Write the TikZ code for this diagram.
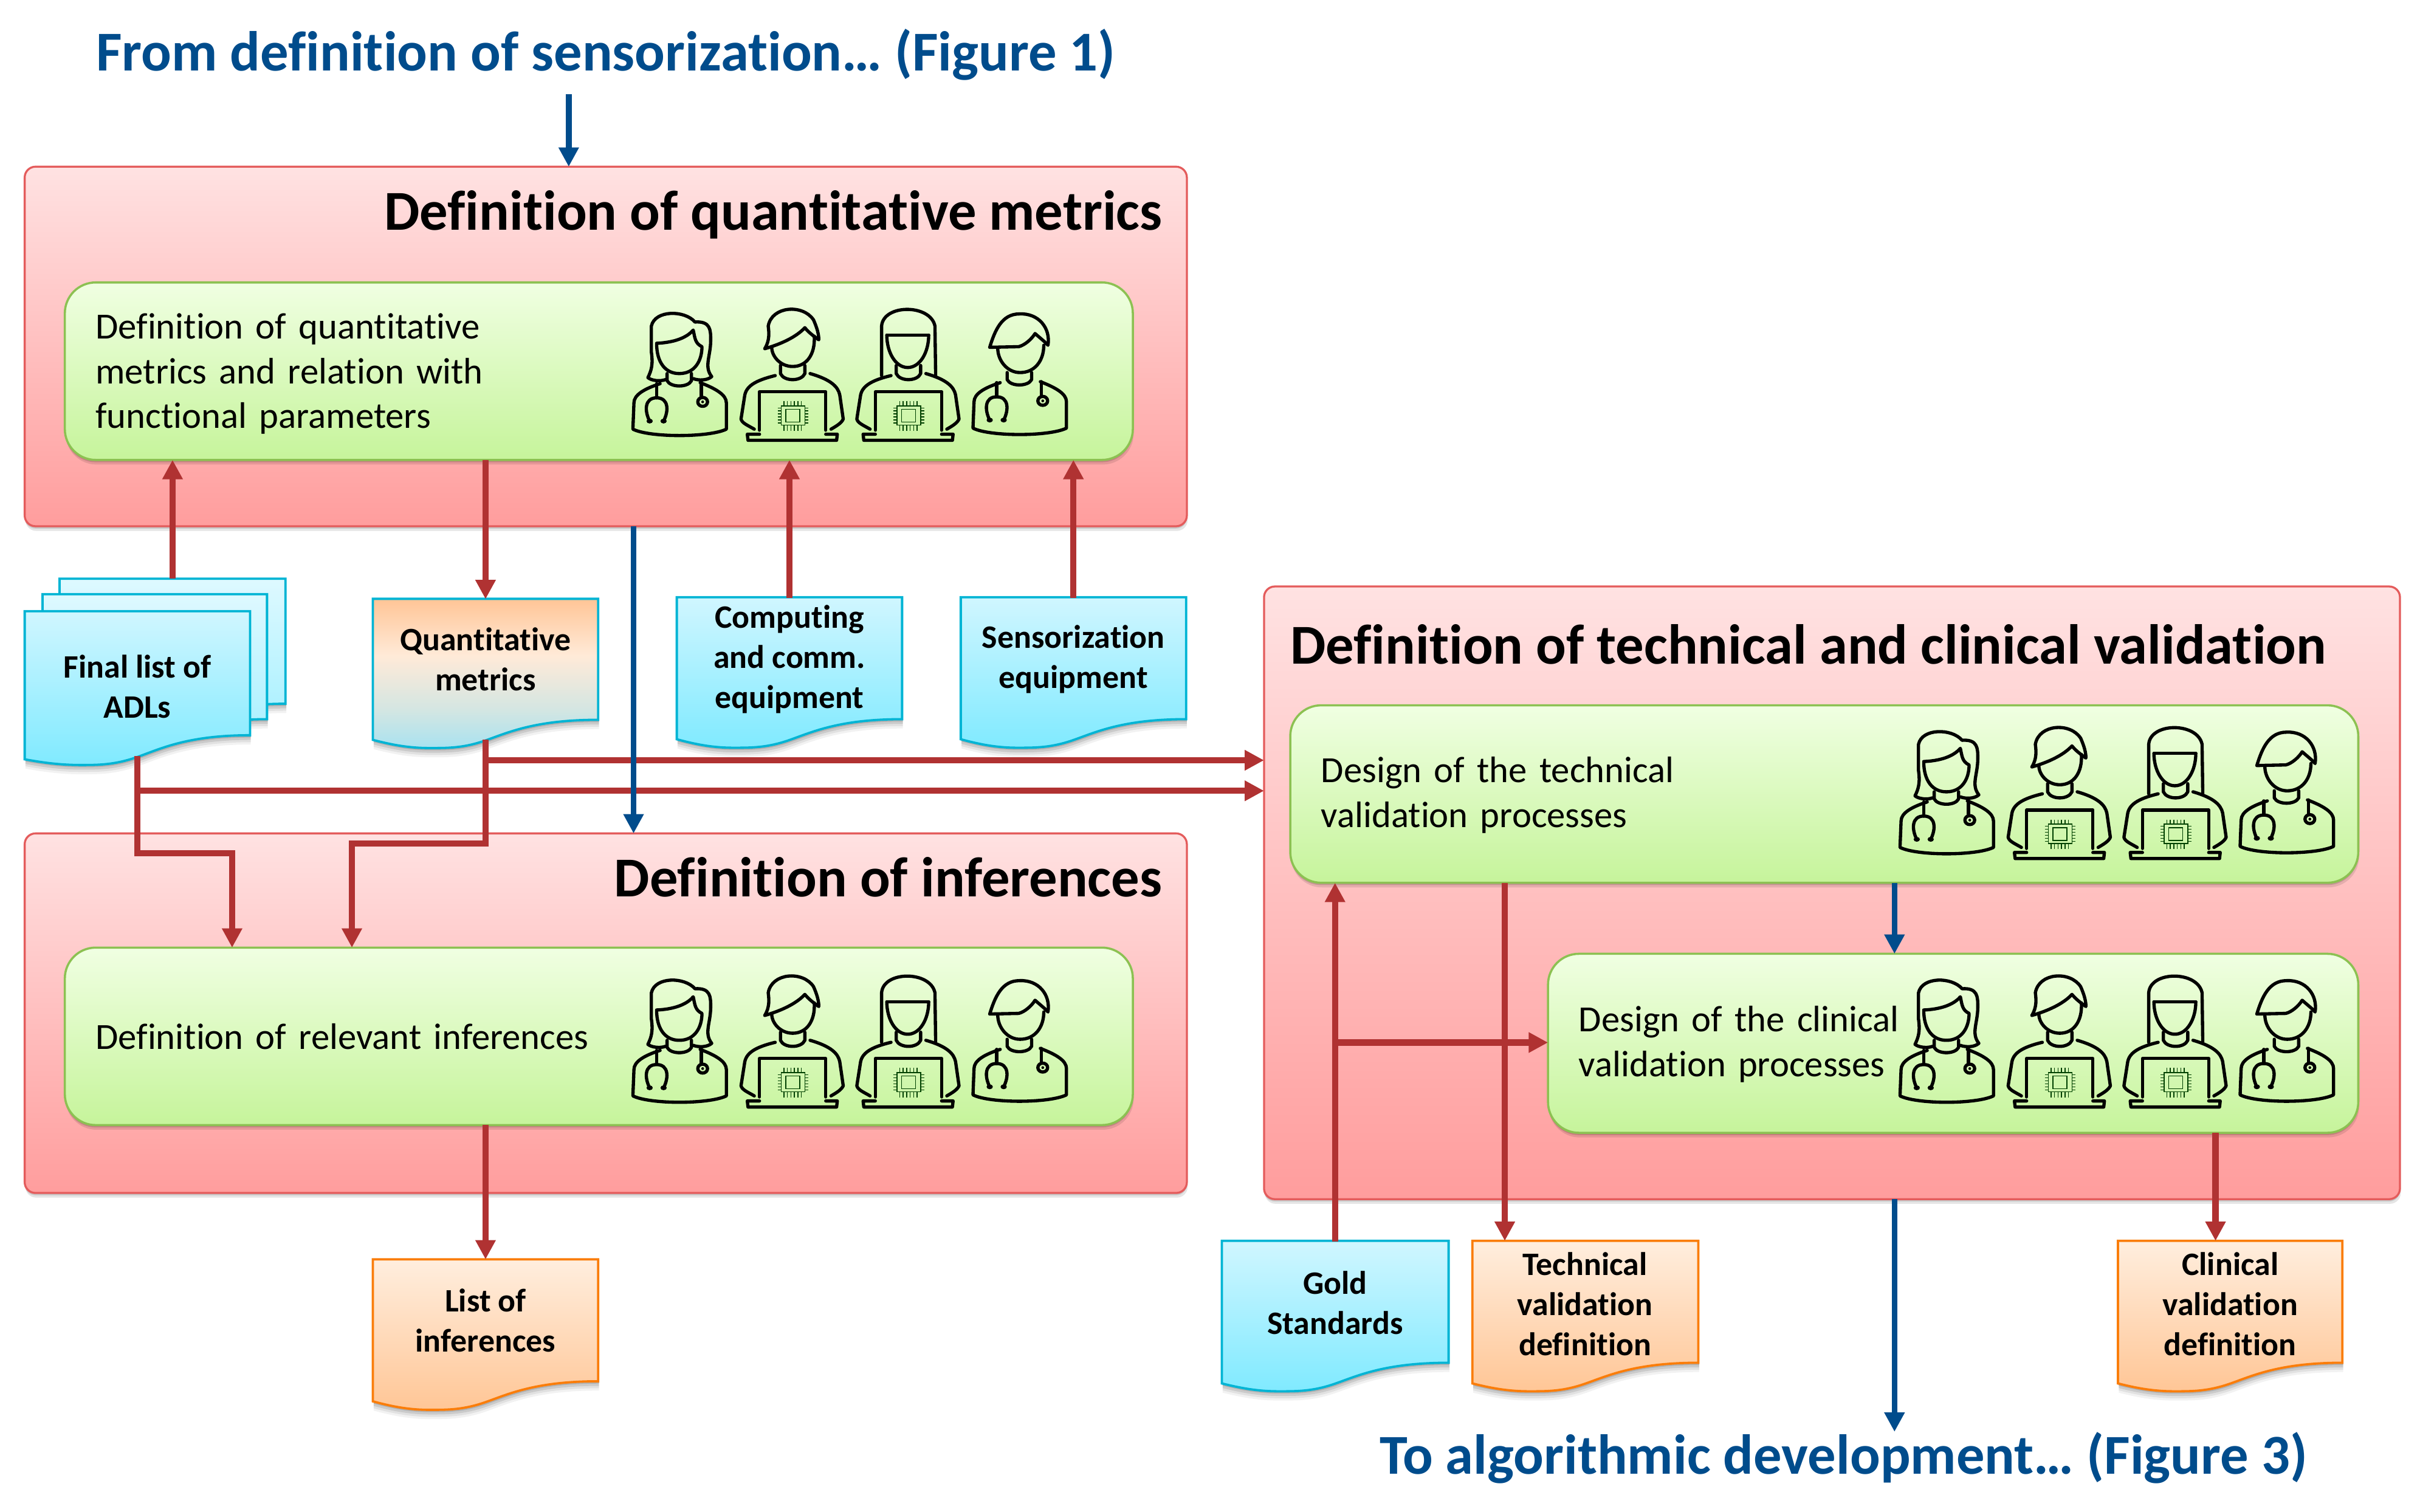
\documentclass[tikz,border=0pt]{standalone}
\usepackage{fontspec}
\setmainfont{Carlito}[Ligatures=NoCommon]
\usetikzlibrary{arrows.meta,shadows,calc}
\definecolor{flowred}{HTML}{B03232}
\definecolor{flowblue}{HTML}{004C8C}
\definecolor{pinkline}{HTML}{E45C5C}
\definecolor{greenline}{HTML}{8CC152}
\definecolor{cyanline}{HTML}{00B4D4}
\definecolor{orangeline}{HTML}{FA7D0A}
\definecolor{pinktop}{RGB}{255,226,226}
\definecolor{pinkbot}{RGB}{255,157,157}
\definecolor{greentop}{RGB}{240,255,226}
\definecolor{greenbot}{RGB}{198,244,155}
\definecolor{cyantop}{RGB}{208,246,255}
\definecolor{cyanbot}{RGB}{128,234,255}
\definecolor{backtop}{RGB}{222,249,255}
\definecolor{backbot}{RGB}{165,240,255}
\definecolor{orangetop}{RGB}{255,238,222}
\definecolor{orangebot}{RGB}{255,198,150}
\definecolor{mixtop}{RGB}{255,197,150}
\definecolor{mixmid}{RGB}{255,234,216}
\definecolor{mixlow}{RGB}{212,230,226}
\definecolor{mixbot}{RGB}{168,226,240}
\pgfdeclareverticalshading{mixshade}{100bp}{color(0bp)=(mixbot); color(25bp)=(mixbot); color(38bp)=(mixlow); color(56bp)=(mixmid); color(75bp)=(mixtop); color(100bp)=(mixtop)}
\newcommand\gapa{\rule{0pt}{20pt}}
\newcommand\gapb{\rule{0pt}{18pt}}
\tikzset{
  pinkbox/.style={draw=pinkline,line width=1.3pt,rounded corners=7pt,
    top color=pinktop,bottom color=pinkbot,
    inner sep=0pt,outer sep=0pt,
    drop shadow={shadow xshift=0pt,shadow yshift=-1.5pt,opacity=.12,fill=black},
    drop shadow={shadow xshift=.5pt,shadow yshift=-3pt,opacity=.1,fill=black}},
  greenbox/.style={draw=greenline,line width=1.4pt,rounded corners=20pt,
    top color=greentop,bottom color=greenbot,
    inner sep=0pt,outer sep=0pt,align=left,font=\fontsize{23.9}{29}\selectfont,
    drop shadow={shadow xshift=0pt,shadow yshift=-1.5pt,opacity=.14,fill=black},
    drop shadow={shadow xshift=.5pt,shadow yshift=-3pt,opacity=.1,fill=black}},
  boxtitle/.style={inner sep=0pt,outer sep=0pt,font=\fontsize{36.5}{42}\selectfont\bfseries},
  flowtitle/.style={inner sep=0pt,outer sep=0pt,text=flowblue,font=\fontsize{36.5}{42}\selectfont\bfseries},
  doctext/.style={inner sep=0pt,outer sep=0pt,align=center,minimum width=146pt,
    font=\fontsize{21.2}{26}\selectfont\bfseries},
  cyandoc/.style={draw=cyanline,line width=1.5pt,top color=cyantop,bottom color=cyanbot},
  cyanback/.style={draw=cyanline,line width=1.5pt,top color=backtop,bottom color=backbot},
  orangedoc/.style={draw=orangeline,line width=1.5pt,top color=orangetop,bottom color=orangebot},
  mixdoc/.style={draw=cyanline,line width=1.5pt,shade,shading=mixshade},
  redflow/.style={draw=flowred,line width=4pt,line join=miter,-{Triangle[width=12.5pt,length=12.5pt]}},
  blueflow/.style={draw=flowblue,line width=3.7pt,-{Triangle[width=12.5pt,length=12.5pt]}},
  iconline/.style={line width=2.1pt,draw=black,line cap=round,line join=round},
  chipline/.style={line width=.6pt,draw=black!75!green},
}
% style, x0, y0, x1, y1, y2, y3
\newcommand\docshape[7]{%
  \pgfmathsetmacro\dw{#4-#2}%
  \pgfmathsetmacro\dym{#5+.73*(#7-#5)}%
  \pgfmathsetmacro\dyc{#6+.5*(#7-#6)}%
  \foreach \dshift/\dop in {1.5/.12,3/.1,4.5/.07,6/.05}{%
    \fill[black,opacity=\dop,shift={(.5,\dshift)}]
      (#2,#3) -- (#4,#3) -- (#4,#5)
      .. controls (#2+.72*\dw,#5) and (#2+.6*\dw,\dym-.035*\dw) .. (#2+.5*\dw,\dym)
      .. controls (#2+.4*\dw,\dym+.035*\dw) and (#2+.33*\dw,#7) .. (#2+.25*\dw,#7)
      .. controls (#2+.15*\dw,#7) and (#2+.07*\dw,\dyc) .. (#2,#6) -- cycle;
  }%
  \path[#1]
      (#2,#3) -- (#4,#3) -- (#4,#5)
      .. controls (#2+.72*\dw,#5) and (#2+.6*\dw,\dym-.035*\dw) .. (#2+.5*\dw,\dym)
      .. controls (#2+.4*\dw,\dym+.035*\dw) and (#2+.33*\dw,#7) .. (#2+.25*\dw,#7)
      .. controls (#2+.15*\dw,#7) and (#2+.07*\dw,\dyc) .. (#2,#6) -- cycle;
}
\newcommand\docbody{%
  \draw[iconline] (150,455) .. controls (105,480) and (75,510) .. (75,550) -- (72,680)
     .. controls (120,722) and (290,722) .. (340,680) -- (340,550) .. controls (340,510) and (310,480) .. (265,450);
  \draw[iconline] (170,405) -- (170,440) .. controls (180,475) and (230,475) .. (240,440) -- (240,405);
  \draw[iconline] (140,455) -- (140,525);
  \draw[iconline] (120,640) .. controls (105,590) and (105,525) .. (140,525) .. controls (175,525) and (175,590) .. (160,640);
  \fill (120,640) circle[x radius=9,y radius=12];
  \fill (160,640) circle[x radius=9,y radius=12];
  \draw[iconline] (268,450) -- (268,520);
  \draw[iconline] (272,545) circle[x radius=14,y radius=22];
  \fill (272,545) circle[x radius=4,y radius=7];
}
\newcommand\techbody{%
  \draw[iconline] (480,415) .. controls (420,440) and (395,470) .. (392,520) -- (382,630) .. controls (385,650) and (400,660) .. (420,680);
  \draw[iconline] (580,405) .. controls (640,435) and (660,470) .. (665,510) -- (675,630) .. controls (670,650) and (655,665) .. (640,680);
  \draw[iconline] (495,365) -- (495,405) .. controls (505,445) and (555,445) .. (565,405) -- (565,365);
  \draw[iconline] (435,685) -- (435,495) -- (625,495) -- (625,685);
  \draw[iconline] (435,705) -- (400,705) -- (402,735) -- (656,735) -- (658,705) -- (625,705);
  \draw[chipline] (497,565) rectangle (565,660);
  \draw[chipline] (510,582) rectangle (550,645);
  \foreach \px in {505,515,525,535,545,555}{
    \draw[chipline] (\px,542) -- (\px,565);
    \draw[chipline] (\px,660) -- (\px,688);
  }
  \foreach \py in {575,590,605,620,635,650}{
    \draw[chipline] (487,\py) -- (497,\py);
    \draw[chipline] (565,\py) -- (575,\py);
  }
}
\tikzset{
  team/.pic={
    \begin{scope}[xscale=.226,yscale=.131]
      % female doctor
      \docbody
      \draw[iconline] (165,435) .. controls (150,445) and (125,440) .. (115,425) .. controls (125,390) and (130,360) .. (125,300) -- (125,170)
        .. controls (135,90) and (220,90) .. (250,150) .. controls (295,145) and (295,190) .. (295,240)
        .. controls (295,320) and (275,370) .. (298,420) .. controls (285,440) and (260,440) .. (245,430);
      \draw[iconline] (142,255) .. controls (200,250) and (230,220) .. (245,190) .. controls (250,230) and (250,255) .. (270,272)
        .. controls (270,340) and (250,405) .. (205,405) .. controls (165,405) and (140,350) .. (140,255);
      % male engineer
      \techbody
      \draw[iconline] (450,282) .. controls (465,240) and (462,200) .. (460,170) .. controls (470,70) and (560,60) .. (590,140)
        .. controls (600,180) and (605,210) .. (605,238) .. controls (590,220) and (575,200) .. (565,178) .. controls (540,225) and (495,260) .. (450,282);
      \draw[iconline] (470,275) .. controls (470,320) and (495,370) .. (530,370) .. controls (570,370) and (595,310) .. (592,220);
      % female engineer
      \begin{scope}[shift={(332,0)}]
        \techbody
      \end{scope}
      \draw[iconline] (785,415) -- (785,170) .. controls (790,60) and (925,60) .. (938,170) -- (940,420);
      \draw[iconline] (800,215) -- (920,215);
      \draw[iconline] (800,215) .. controls (800,300) and (825,375) .. (860,375) .. controls (895,375) and (920,300) .. (920,215);
      % male doctor
      \begin{scope}[shift={(975,-5)}]
        \docbody
      \end{scope}
      \draw[iconline] (1095,275) -- (1178,272) .. controls (1195,265) and (1215,235) .. (1225,207) .. controls (1240,230) and (1255,250) .. (1262,265)
        .. controls (1270,180) and (1235,105) .. (1180,110) .. controls (1130,110) and (1110,190) .. (1095,275);
      \draw[iconline] (1118,280) .. controls (1118,340) and (1145,400) .. (1182,400) .. controls (1225,400) and (1250,340) .. (1250,265);
    \end{scope}
  }
}
\begin{document}
\begin{tikzpicture}[x=1pt,y=-1pt]
\useasboundingbox (0,0) rectangle (1568,979.7);

% containers
\node[pinkbox,minimum width=753pt,minimum height=233pt] (box1) at (392.5,224.5) {};
\node[pinkbox,minimum width=753pt,minimum height=233pt] (box2) at (392.5,656.5) {};
\node[pinkbox,minimum width=736pt,minimum height=397pt] (box3) at (1187,578.5) {};

% titles
\node[flowtitle,anchor=center] (fromtitle) at (392.5,35.5) {From definition of sensorization… (Figure 1)};
\node[flowtitle,anchor=center] (totitle) at (1194.5,944.5) {To algorithmic development… (Figure 3)};
\node[boxtitle,anchor=east] (t1) at (753,139) {Definition of quantitative metrics};
\node[boxtitle,anchor=east] (t2) at (753,568.5) {Definition of inferences};
\node[boxtitle,anchor=west] (t3) at (836,417.5) {Definition of technical and clinical validation};

% process boxes
\node[greenbox,minimum width=692pt,minimum height=115pt,text width=652pt] (green1) at (388,240.5)
  {\gapa Definition of quantitative\\metrics and relation with\\functional parameters};
\node[greenbox,minimum width=692pt,minimum height=115pt,text width=652pt] (green2) at (388,671.5)
  {Definition of relevant inferences};
\node[greenbox,minimum width=692pt,minimum height=115pt,text width=652pt] (green3) at (1182,514.5)
  {\gapb Design of the technical\\validation processes};
\node[greenbox,minimum width=525pt,minimum height=116pt,text width=485pt] (green4) at (1265.5,676)
  {\gapb Design of the clinical\\validation processes};

% staff
\pic at (393.8,189) {team};
\pic at (393.8,621) {team};
\pic at (1214.8,460) {team};
\pic at (1214.8,621) {team};

% documents
\docshape{cyanback}{38.6}{375}{185}{456}{469}{476}
\docshape{cyanback}{27.6}{385}{173}{466}{479}{486}
\docshape{cyandoc}{16}{396}{162}{476.4}{492}{495.7}
\docshape{mixdoc}{241.6}{388}{387.6}{466.4}{479.4}{484.7}
\docshape{cyandoc}{438.5}{387}{584.5}{466}{479}{484.5}
\docshape{cyandoc}{622.5}{387}{768.5}{466}{479}{484.5}
\docshape{orangedoc}{241.6}{816}{387.6}{895}{908}{913.5}
\docshape{cyandoc}{791.7}{804}{938.6}{883}{896.4}{901.5}
\docshape{orangedoc}{954}{804}{1100.4}{883}{896.4}{901.5}
\docshape{orangedoc}{1372.3}{804}{1517.7}{883}{896.4}{901.5}

\node[doctext,minimum height=81pt] (finalback) at (111.8,415.5) {};
\node[doctext,minimum height=98pt] (final) at (89,445) {Final list of\\ADLs};
\node[doctext,minimum height=78pt] (quant) at (314.6,427.2) {Quantitative\\metrics};
\node[doctext,minimum height=79pt] (comp) at (511.5,427) {Computing\\and comm.\\equipment};
\node[doctext,minimum height=79pt] (sens) at (695.5,427) {Sensorization\\equipment};
\node[doctext,minimum height=79pt] (list) at (314.6,855.5) {List of\\inferences};
\node[doctext,minimum height=79pt] (gold) at (865,844) {Gold\\Standards};
\node[doctext,minimum height=82pt] (tech) at (1027,845) {Technical\\validation\\definition};
\node[doctext,minimum height=82pt] (clin) at (1445,845) {Clinical\\validation\\definition};

% junctions and free ends
\coordinate (blueTop) at (368.5,61);
\coordinate (blueMid) at (410.5,341);
\coordinate (finalOut) at ([yshift=4pt]final.south);
\coordinate (quantOut) at ([yshift=-13pt]quant.south);
\coordinate (f1) at (150.4,552.8);
\coordinate (q1) at (228,546.7);
\coordinate (fb) at (88.7,512.4);
\coordinate (qb) at (314.6,492.6);
\coordinate (gb) at (865,675.5);
\coordinate (ta) at (975,572);
\coordinate (ca) at (1435.5,734);
\coordinate (ba) at (1227.5,572);
\coordinate (bb) at (1227.5,777);
\coordinate (be) at (1227.5,927.7);

% red flows
\draw[redflow] (finalback.north) -- (finalback.north |- green1.south);
\draw[redflow] (green1.south -| quant.north) -- (quant.north);
\draw[redflow] (comp.north) -- (comp.north |- green1.south);
\draw[redflow] (sens.north) -- (sens.north |- green1.south);
\draw[redflow] (fb) -- (fb -| box3.west);
\draw[redflow] (qb) -- (qb -| box3.west);
\draw[redflow] (finalOut) |- (f1) -- (f1 |- green2.north);
\draw[redflow] (quantOut) |- (q1) -- (q1 |- green2.north);
\draw[redflow] (green2.south -| list.north) -- (list.north);
\draw[redflow] (gold.north) -- (gold.north |- green3.south);
\draw[redflow] (gb) -- (gb -| green4.west);
\draw[redflow] (ta) -- (ta |- tech.north);
\draw[redflow] (ca) -- (ca |- clin.north);

% blue flows
\draw[blueflow] (blueTop) -- (blueTop |- box1.north);
\draw[blueflow] (blueMid) -- (blueMid |- box2.north);
\draw[blueflow] (ba) -- (ba |- green4.north);
\draw[blueflow] (bb) -- (be);
\end{tikzpicture}
\end{document}
